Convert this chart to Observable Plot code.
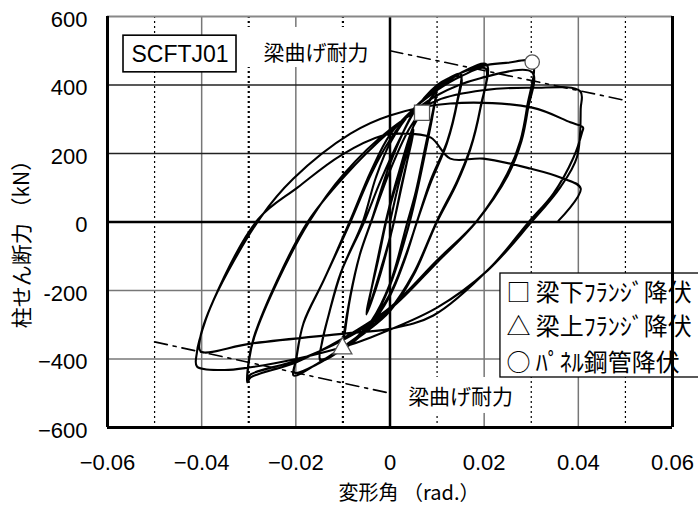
<!DOCTYPE html>
<html><head><meta charset="utf-8">
<script src="https://cdn.jsdelivr.net/npm/d3@7"></script>
<script src="https://cdn.jsdelivr.net/npm/@observablehq/plot@0.6"></script>
<style>body{margin:0;overflow:hidden;background:#fff}</style>
</head><body><div id="chart"></div>
<script>
// ---- data (drift angle rad, shear force kN) ----
const cycle005 = [
[0,0],[0.002,120],[0.004,220],[0.005,265],[0.0046,235],[0.0025,110],[0.0005,-20],[-0.002,-140],[-0.004,-230],[-0.005,-265],[-0.0046,-235],[-0.0025,-110],[-0.0005,20],
[0.002,140],[0.004,235],[0.005,270],[0.0046,240],[0.0025,105],[0.0004,-25],[-0.002,-150],[-0.004,-235],[-0.005,-270],[-0.0046,-240],[-0.0025,-100],[-0.0005,25]
];
const cycle010 = [
[0.002,150],[0.005,280],[0.0068,319],[0.0085,355],[0.0098,380],[0.0092,330],[0.0075,220],[0.0055,90],[0.0035,-10],[0,-180],[-0.004,-290],[-0.007,-335],[-0.0101,-369],
[-0.0097,-320],[-0.0085,-220],[-0.0065,-100],[-0.004,0],[0,150],[0.004,270],[0.007,330],[0.0098,378],[0.0093,330],[0.0076,210],[0.0056,80],[0.0038,-20],[0,-185],
[-0.004,-295],[-0.007,-340],[-0.0099,-365],[-0.0095,-315],[-0.0083,-210],[-0.0063,-90],[-0.0038,10]
];
const cycle015 = [
[0,170],[0.005,320],[0.01,400],[0.0125,420],[0.015,433],[0.0143,355],[0.0122,238],[0.0086,121],[0.0058,4],[0.003,-110],[0,-210],[-0.005,-310],[-0.01,-370],[-0.0148,-405],
[-0.0145,-355],[-0.013,-270],[-0.0105,-150],[-0.0055,0],[-0.002,120],[0.002,240],[0.006,340],[0.01,395],[0.015,425],[0.0143,350],[0.0121,230],[0.0085,110],[0.0056,-5],
[0.003,-115],[0,-215],[-0.005,-315],[-0.01,-372],[-0.0148,-400],[-0.0144,-350],[-0.0128,-260],[-0.0102,-140],[-0.0058,0]
];
const cycle020 = [
[-0.003,130],[0,230],[0.005,330],[0.01,390],[0.015,435],[0.0205,460],[0.0192,334],[0.0171,217],[0.0143,121],[0.01,4],[0.005,-150],[0,-255],[-0.005,-315],[-0.01,-365],
[-0.015,-410],[-0.0205,-448],[-0.02,-405],[-0.0184,-297],[-0.0141,-171],[-0.0084,0],[-0.004,140],[0,240],[0.005,330],[0.01,385],[0.015,425],[0.0203,448],[0.0191,325],
[0.017,210],[0.0141,110],[0.0098,-5],[0.005,-155],[0,-260],[-0.005,-320],[-0.01,-368],[-0.015,-412],[-0.0203,-440],[-0.0199,-400],[-0.0183,-292],[-0.014,-168],[-0.0086,0]
];
const cycle030 = [
[-0.004,150],[0,255],[0.005,330],[0.01,385],[0.015,435],[0.0205,458],[0.025,465],[0.0302,467],[0.0291,335],[0.0277,238],[0.0249,141],[0.0185,4],[0.01,-112],[0,-250],
[-0.01,-340],[-0.02,-410],[-0.0296,-454],[-0.0303,-468],[-0.03,-405],[-0.029,-340],[-0.024,-171],[-0.0175,0],[-0.0099,130],[0,265],[0.01,370],[0.0192,420],[0.0302,437],
[0.0293,330],[0.0279,235],[0.025,135],[0.0183,0],[0.01,-118],[0,-255],[-0.01,-345],[-0.02,-405],[-0.0296,-445],[-0.0302,-458],[-0.0299,-400],[-0.0288,-335],[-0.0238,-171],[-0.0172,0]
];
const cycle040 = [
[-0.0098,140],[0,270],[0.01,355],[0.02,385],[0.0302,392],[0.0404,382],[0.0405,330],[0.0397,189],[0.0362,102],[0.0298,-4],[0.0207,-142],[0.01,-250],[-0.0041,-337],
[-0.01,-365],[-0.02,-400],[-0.03,-425],[-0.0353,-432],[-0.041,-422],[-0.041,-380],[-0.0405,-346],[-0.0375,-229],[-0.0275,13],[-0.0205,127],[-0.0084,258],[0,311],
[0.0128,346],[0.0302,334],[0.0383,291],[0.041,276],[0.0408,262],[0.039,189],[0.0347,83],[0.0294,-1],[0.0213,-133],[0.0092,-273],[0,-312],[-0.0099,-326],[-0.0296,-355],
[-0.0402,-378],[-0.0404,-346],[-0.0376,-232],[-0.028,8],[-0.0196,101],[-0.0105,194],[-0.0014,253],[0.0022,258],[0.0086,247],[0.0128,185],[0.0198,185],[0.0298,156],
[0.0362,130],[0.0405,98],[0.0358,4]
];
const beamCapPos = [[0,500],[0.05,355]];
const beamCapNeg = [[-0.05,-350],[0,-500]];
const lowerFlangeYield = [[0.0068,319]];
const upperFlangeYield = [[-0.0101,-369]];
const panelYield = [[0.0302,467]];
const xTicks = [-0.06,-0.04,-0.02,0,0.02,0.04,0.06];
const xTickLabels = ["\u22120.06","\u22120.04","\u22120.02","0","0.02","0.04","0.06"];
const yTicks = [-600,-400,-200,0,200,400,600];
const yTickLabels = ["\u2212600","\u2212400","-200","0","200","400","600"];
const xSolidGrid = [-0.04,-0.02,0.02,0.04];
const xDotGridThick = [-0.03,-0.01];
const xDotGridThin = [-0.05,0.01,0.03,0.05];
const yGridPos = [200,400];
const yGridNeg = [-200,-400];
const legendLabels = ["□ 梁下ﾌﾗﾝｼﾞ降伏","△ 梁上ﾌﾗﾝｼﾞ降伏","○ ﾊﾟﾈﾙ鋼管降伏"];
const specimen = "SCFTJ01";
const capLabel = "梁曲げ耐力";

// ---- build ----
const path = [...cycle005,...cycle010,...cycle015,...cycle020,...cycle030,...cycle040].map(([x,y])=>({x,y}));
const toObj = a => a.map(([x,y])=>({x,y}));
const xLab = new Map(xTicks.map((d,i)=>[d,xTickLabels[i]]));
const yLab = new Map(yTicks.map((d,i)=>[d,yTickLabels[i]]));
const JP = "'Noto Sans CJK JP', sans-serif";
const legendY = [-209,-308,-413];

const chart = Plot.plot({
  width:698, height:506, marginLeft:107, marginRight:26, marginTop:16, marginBottom:79,
  style:{fontFamily:"'Liberation Sans', Arial, sans-serif", background:"#fff"},
  x:{domain:[-0.06,0.06]}, y:{domain:[-600,600]},
  marks:[
    Plot.ruleX(xSolidGrid,{stroke:"#777",strokeWidth:1.5}),
    Plot.ruleX(xDotGridThick,{stroke:"#000",strokeWidth:2.2,strokeDasharray:"2,3"}),
    Plot.ruleX(xDotGridThin,{stroke:"#000",strokeWidth:1.2,strokeDasharray:"2,3"}),
    Plot.ruleY(yGridPos,{stroke:"#222",strokeWidth:1.5}),
    Plot.ruleY(yGridNeg,{stroke:"#777",strokeWidth:1.5}),
    Plot.ruleX([0],{stroke:"#000",strokeWidth:2.5}),
    Plot.ruleY([0],{stroke:"#000",strokeWidth:2.5}),
    // label backgrounds
    Plot.rect([{a:-0.0317,b:-0.0006,c:451,d:568}],{x1:"a",x2:"b",y1:"c",y2:"d",fill:"white"}),
    Plot.rect([{a:0.0018,b:0.0281,c:-559,d:-454}],{x1:"a",x2:"b",y1:"c",y2:"d",fill:"white"}),
    Plot.line(path,{x:"x",y:"y",stroke:"#000",strokeWidth:2.1,strokeLinejoin:"round",curve:"catmull-rom"}),
    Plot.line(toObj(beamCapPos),{x:"x",y:"y",stroke:"#000",strokeWidth:1.6,strokeDasharray:"13,6,3,6"}),
    Plot.line(toObj(beamCapNeg),{x:"x",y:"y",stroke:"#000",strokeWidth:1.6,strokeDasharray:"13,6,3,6"}),
    Plot.dot(toObj(lowerFlangeYield),{x:"x",y:"y",symbol:"square",r:8.5,fill:"white",stroke:"#555",strokeWidth:1.3}),
    Plot.dot(toObj(upperFlangeYield),{x:"x",y:"y",symbol:"triangle",r:7,fill:"white",stroke:"#555",strokeWidth:1.3}),
    Plot.dot(toObj(panelYield),{x:"x",y:"y",symbol:"circle",r:7.2,fill:"white",stroke:"#555",strokeWidth:1.3}),
    // specimen box
    Plot.rect([{a:-0.0566,b:-0.0326,c:437,d:544}],{x1:"a",x2:"b",y1:"c",y2:"d",fill:"white",stroke:"#000",strokeWidth:1.6}),
    Plot.text([specimen],{x:-0.0446,y:490,text:d=>d,fontSize:23,fill:"#000"}),
    Plot.text([capLabel],{x:-0.0157,y:492,text:d=>d,fontSize:21,fontFamily:JP,fill:"#000"}),
    Plot.text([capLabel],{x:0.015,y:-512,text:d=>d,fontSize:21,fontFamily:JP,fill:"#000"}),
    // legend
    Plot.rect([{a:0.02346,b:0.072,c:-454,d:-150.4}],{x1:"a",x2:"b",y1:"c",y2:"d",fill:"white",stroke:"#000",strokeWidth:1.3}),
    Plot.text(legendLabels,{x:0.02473,y:(d,i)=>legendY[i],text:d=>d,textAnchor:"start",fontSize:24,fontFamily:JP,fill:"#000"}),
    // frame
    Plot.ruleY([600],{stroke:"#888",strokeWidth:2}),
    Plot.ruleX([-0.06],{stroke:"#000",strokeWidth:3}),
    Plot.ruleX([0.06],{stroke:"#000",strokeWidth:3}),
    Plot.ruleY([-600],{stroke:"#000",strokeWidth:3}),
    // axes
    Plot.axisX(xTicks,{tickSize:0,tickPadding:27,tickFormat:d=>xLab.get(d),fontSize:22,label:null}),
    Plot.axisY(yTicks,{tickSize:0,tickPadding:20,tickFormat:d=>yLab.get(d),fontSize:22,dy:3,label:null}),
    Plot.text(["柱せん断力 （kN）"],{frameAnchor:"left",dx:-85,dy:17,rotate:-90,textAnchor:"middle",lineAnchor:"middle",text:d=>d,fontSize:21,fontFamily:JP,fill:"#000"}),
    Plot.text(["変形角 （rad.）"],{frameAnchor:"bottom",dx:19,dy:66,textAnchor:"middle",lineAnchor:"middle",text:d=>d,fontSize:20,fontFamily:JP,fill:"#000"})
  ]
});
document.getElementById("chart").append(chart);
</script></body></html>
